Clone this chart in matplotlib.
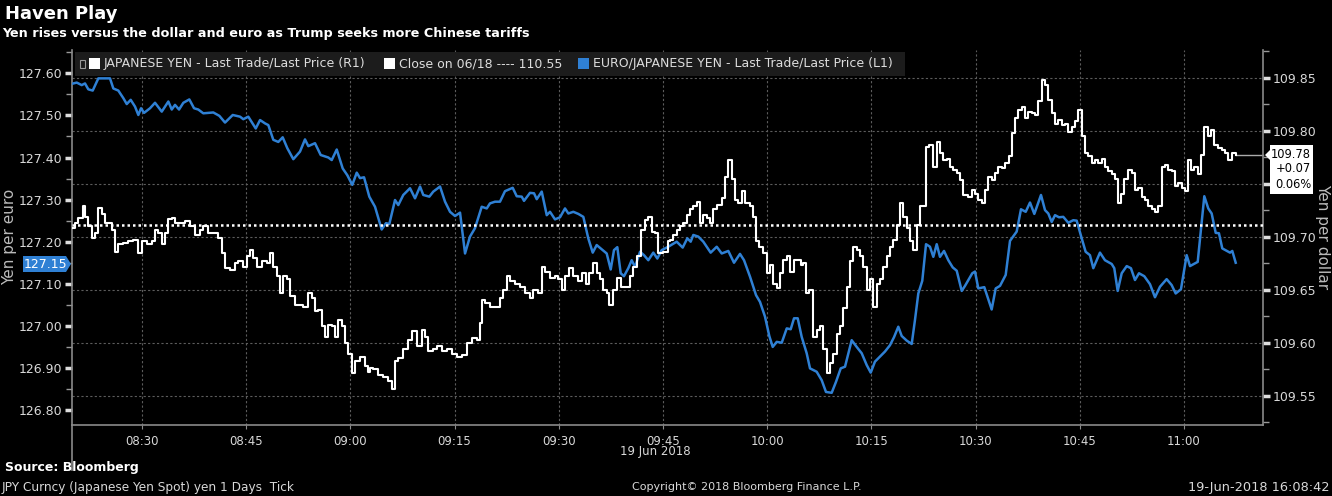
import matplotlib
matplotlib.use('Agg')
import matplotlib.pyplot as plt
import matplotlib.dates as mdates
import matplotlib.transforms as mtransforms
from matplotlib.patches import Rectangle, Polygon
from datetime import datetime
import numpy as np

# ---- data (minutes after 08:00 on 19 Jun 2018) ----
# EUR/JPY, left axis
blue_min = [19.88, 20.60, 21.32, 21.79, 22.27, 22.90, 23.71, 24.43, 25.39, 25.87,
            26.59, 27.31, 27.80, 28.37, 28.99, 29.47, 29.86, 30.29, 31.15, 31.87,
            32.84, 33.79, 34.28, 34.75, 35.33, 35.95, 36.81, 37.49, 38.10, 38.82,
            40.26, 41.13, 41.95, 42.57, 43.06, 44.11, 44.58, 45.30, 46.37, 46.99,
            47.71, 48.18, 48.90, 49.62, 50.25, 50.92, 51.78, 52.74, 53.46, 53.94,
            54.90, 55.72, 56.82, 57.31, 58.03, 58.89, 59.55, 60.27, 60.91, 61.38,
            61.96, 62.72, 63.54, 64.50, 65.12, 65.60, 66.42, 66.89, 67.61, 68.58,
            69.30, 70.02, 70.49, 71.36, 71.93, 72.90, 73.62, 74.34, 75.06, 75.78,
            76.50, 77.21, 77.93, 78.90, 79.62, 80.09, 80.81, 81.53, 82.25, 83.36,
            83.94, 84.66, 84.99, 85.85, 86.43, 86.82, 87.54, 88.26, 88.73, 89.45,
            90.17, 90.89, 91.37, 92.09, 92.81, 93.53, 94.24, 94.88, 95.45, 96.32,
            96.89, 97.47, 97.94, 98.42, 98.91, 99.38, 100.00, 100.49, 100.97, 101.69,
            102.26, 102.88, 103.60, 104.18, 104.81, 105.76, 106.97, 107.83, 108.50, 108.98,
            109.36, 110.08, 110.80, 111.86, 112.73, 113.45, 114.40, 115.22, 116.08, 116.66,
            117.52, 118.39, 118.96, 119.68, 120.30, 120.79, 121.37, 122.09, 122.81, 123.38,
            123.86, 124.39, 124.96, 125.68, 126.16, 127.12, 127.84, 128.46, 129.28, 129.90,
            130.58, 131.20, 132.16, 132.88, 133.60, 134.32, 134.90, 135.51, 136.23, 136.95,
            137.67, 138.25, 138.87, 139.36, 140.08, 140.80, 141.27, 141.75, 142.32, 142.86,
            143.43, 143.91, 144.40, 144.87, 145.45, 146.07, 146.70, 147.28, 148.00, 148.47,
            149.52, 149.91, 150.39, 151.25, 152.31, 152.89, 153.51, 154.33, 154.95, 155.91,
            156.53, 157.21, 157.83, 158.45, 159.41, 159.99, 160.46, 160.95, 161.43, 162.00,
            162.62, 163.34, 164.06, 164.55, 165.27, 165.84, 166.46, 166.94, 167.90, 168.62,
            169.59, 169.96, 170.45, 171.03, 171.75, 172.36, 172.94, 173.52, 174.28, 175.10,
            175.82, 176.54, 177.50, 178.22, 178.80, 179.56, 180.38, 180.86, 181.97, 182.92,
            183.49, 183.98, 184.56, 185.03, 185.51, 186.62, 186.95, 187.44]
blue_val = [127.575, 127.578, 127.572, 127.576, 127.562, 127.559, 127.588, 127.588, 127.588, 127.564,
            127.559, 127.541, 127.527, 127.537, 127.521, 127.501, 127.517, 127.506, 127.517, 127.530,
            127.509, 127.533, 127.514, 127.525, 127.514, 127.530, 127.538, 127.517, 127.514, 127.505,
            127.507, 127.499, 127.483, 127.493, 127.501, 127.497, 127.491, 127.497, 127.469, 127.489,
            127.481, 127.477, 127.442, 127.437, 127.448, 127.422, 127.396, 127.414, 127.443, 127.427,
            127.434, 127.406, 127.400, 127.394, 127.419, 127.374, 127.358, 127.335, 127.364, 127.351,
            127.353, 127.307, 127.283, 127.229, 127.244, 127.242, 127.299, 127.287, 127.311, 127.327,
            127.303, 127.331, 127.311, 127.307, 127.319, 127.331, 127.295, 127.271, 127.261, 127.269,
            127.172, 127.212, 127.232, 127.283, 127.279, 127.291, 127.295, 127.295, 127.320, 127.328,
            127.308, 127.307, 127.297, 127.316, 127.315, 127.301, 127.319, 127.263, 127.271, 127.253,
            127.258, 127.279, 127.267, 127.271, 127.266, 127.259, 127.208, 127.174, 127.192, 127.180,
            127.172, 127.134, 127.180, 127.187, 127.125, 127.118, 127.137, 127.156, 127.140, 127.176,
            127.168, 127.156, 127.174, 127.160, 127.180, 127.188, 127.200, 127.186, 127.208, 127.200,
            127.216, 127.212, 127.200, 127.174, 127.188, 127.172, 127.178, 127.150, 127.171, 127.156,
            127.117, 127.073, 127.057, 127.022, 126.976, 126.950, 126.962, 126.960, 126.994, 126.992,
            127.018, 127.018, 126.974, 126.935, 126.899, 126.891, 126.871, 126.843, 126.841, 126.867,
            126.899, 126.903, 126.966, 126.950, 126.935, 126.907, 126.889, 126.915, 126.927, 126.939,
            126.954, 126.973, 126.998, 126.976, 126.965, 126.957, 127.014, 127.077, 127.107, 127.194,
            127.188, 127.164, 127.194, 127.164, 127.178, 127.156, 127.139, 127.131, 127.083, 127.095,
            127.125, 127.129, 127.089, 127.092, 127.039, 127.089, 127.095, 127.121, 127.202, 127.224,
            127.277, 127.271, 127.293, 127.266, 127.311, 127.275, 127.267, 127.247, 127.263, 127.258,
            127.259, 127.245, 127.251, 127.250, 127.208, 127.176, 127.168, 127.137, 127.174, 127.156,
            127.147, 127.137, 127.083, 127.125, 127.142, 127.137, 127.109, 127.125, 127.118, 127.099,
            127.068, 127.093, 127.111, 127.097, 127.077, 127.087, 127.168, 127.142, 127.152, 127.308,
            127.279, 127.267, 127.221, 127.220, 127.184, 127.174, 127.178, 127.150]

# USD/JPY tick series, right axis
usd_min = [19.88, 20.36, 20.84, 21.46, 21.80, 22.28, 22.75, 23.23, 23.71, 24.19,
           24.67, 25.15, 25.63, 26.11, 26.59, 27.31, 28.03, 28.75, 29.47, 29.95,
           30.67, 31.39, 31.87, 32.35, 32.83, 33.31, 33.79, 34.27, 34.75, 35.47,
           36.19, 36.91, 37.63, 38.35, 38.83, 39.55, 40.27, 40.99, 41.47, 41.95,
           42.67, 43.39, 43.87, 44.59, 45.07, 45.55, 46.03, 46.51, 47.23, 47.95,
           48.43, 48.90, 49.38, 49.86, 50.34, 50.82, 51.30, 52.02, 52.74, 53.22,
           53.94, 54.42, 54.90, 55.38, 55.86, 56.34, 56.82, 57.30, 57.78, 58.26,
           58.74, 59.22, 59.70, 60.18, 60.66, 61.38, 62.10, 62.58,
           62.82, 63.30, 64.02, 64.74, 65.46, 65.94, 66.42, 66.90, 67.62, 68.34,
           68.82, 69.54, 70.26, 70.74, 71.22, 71.94, 72.42, 73.14, 73.86, 74.58,
           75.29, 76.01, 76.73, 77.45, 78.17, 78.65, 78.89, 79.37, 80.09, 80.81,
           81.53, 82.01, 82.49, 82.97, 83.69, 84.41, 85.13, 85.85, 86.33, 87.05,
           87.53, 88.01, 88.73, 89.45, 89.93, 90.41, 90.89, 91.51, 92.09, 92.81,
           93.29, 93.91, 94.39, 94.87, 95.45, 95.93, 96.41, 96.89, 97.27, 97.75,
           98.33, 98.90, 99.53, 100.24, 100.72, 101.20, 101.78, 102.40, 102.88, 103.36,
           103.84, 104.32, 105.04, 105.76,
           106.01, 106.49, 106.97, 107.45, 107.93, 108.41, 108.89, 109.37, 109.85, 110.33,
           110.81, 111.29, 111.77, 112.25, 112.73, 113.45, 113.93, 114.41, 114.89, 115.37,
           115.85, 116.33, 116.81, 117.53, 118.01, 118.39, 118.87, 119.44, 119.92, 120.40,
           120.88, 121.36, 121.84, 122.32, 122.80, 123.28, 123.86, 124.34, 124.82, 125.20,
           125.59, 126.07, 126.55, 127.12, 127.60, 128.08, 128.56, 129.04, 129.52, 130.00,
           130.48, 130.96, 131.44, 131.92, 132.40, 132.88, 133.36, 133.84, 134.32, 134.80,
           135.28, 135.76, 136.24, 136.72, 137.20, 137.68, 138.16, 138.64, 139.12, 139.60,
           140.17, 140.56, 141.04, 141.52, 142.00, 142.48, 142.86, 143.34, 143.91, 144.39,
           144.87, 145.35, 145.83, 146.31, 146.79, 147.27, 147.75, 148.23, 148.95,
           149.43, 149.91, 150.39, 150.87, 151.35, 151.83, 152.31, 152.79, 153.27, 153.75,
           154.23, 154.80, 155.19, 155.67, 156.15, 156.63, 157.11, 157.59, 158.07, 158.55,
           159.03, 159.51, 159.99, 160.47, 160.95, 161.43, 161.91, 162.39, 162.86, 163.34,
           163.82, 164.30, 164.78, 165.26, 165.74, 166.22, 166.70, 167.18, 167.66, 168.14,
           168.62, 169.10, 169.58, 170.06, 170.45, 170.93, 171.40, 171.98, 172.46, 172.94,
           173.42, 173.90, 174.38, 174.86, 175.34, 175.82, 176.30, 176.78, 177.26, 177.74,
           178.22, 178.70, 179.18, 179.66, 180.14, 180.52, 181.00, 181.48, 181.96, 182.44,
           182.92, 183.40, 183.88, 184.36, 184.94, 185.42, 185.89, 186.37, 186.85, 187.43]
usd_val = [109.708, 109.713, 109.718, 109.729, 109.719, 109.710, 109.699, 109.704, 109.727, 109.722,
           109.713, 109.713, 109.707, 109.686, 109.693, 109.694, 109.696, 109.697, 109.685, 109.696,
           109.693, 109.696, 109.707, 109.704, 109.693, 109.704, 109.717, 109.718, 109.713, 109.713,
           109.715, 109.710, 109.702, 109.707, 109.710, 109.704, 109.704, 109.699, 109.685, 109.671,
           109.669, 109.675, 109.677, 109.672, 109.682, 109.688, 109.680, 109.672, 109.677, 109.675,
           109.685, 109.672, 109.663, 109.647, 109.663, 109.660, 109.644, 109.636, 109.636, 109.634,
           109.647, 109.642, 109.630, 109.631, 109.616, 109.606, 109.617, 109.616, 109.606, 109.622,
           109.616, 109.600, 109.590, 109.572, 109.583, 109.587, 109.578, 109.573,
           109.576, 109.575, 109.570, 109.568, 109.564, 109.557, 109.583, 109.586, 109.594, 109.603,
           109.611, 109.597, 109.612, 109.606, 109.592, 109.594, 109.597, 109.592, 109.594, 109.590,
           109.587, 109.589, 109.600, 109.605, 109.603, 109.619, 109.641, 109.638, 109.634, 109.634,
           109.642, 109.650, 109.663, 109.658, 109.656, 109.653, 109.647, 109.642, 109.650, 109.647,
           109.672, 109.667, 109.661, 109.663, 109.660, 109.650, 109.663, 109.671, 109.663, 109.658,
           109.666, 109.656, 109.666, 109.675, 109.666, 109.660, 109.650, 109.647, 109.636, 109.650,
           109.661, 109.653, 109.653, 109.663, 109.672, 109.682, 109.707, 109.716, 109.719, 109.705,
           109.704, 109.685, 109.686, 109.696,
           109.697, 109.702, 109.707, 109.710, 109.713, 109.721, 109.726, 109.729, 109.733, 109.713,
           109.721, 109.718, 109.713, 109.726, 109.730, 109.737, 109.757, 109.773, 109.755, 109.735,
           109.732, 109.743, 109.732, 109.729, 109.719, 109.696, 109.691, 109.685, 109.666, 109.674,
           109.656, 109.652, 109.666, 109.678, 109.682, 109.667, 109.678, 109.678, 109.674, 109.675,
           109.647, 109.650, 109.606, 109.612, 109.616, 109.594, 109.572, 109.581, 109.590, 109.608,
           109.616, 109.633, 109.653, 109.677, 109.691, 109.688, 109.682, 109.672, 109.650, 109.660,
           109.634, 109.656, 109.660, 109.672, 109.682, 109.691, 109.697, 109.711, 109.732, 109.719,
           109.708, 109.696, 109.688, 109.711, 109.729, 109.729, 109.785, 109.787, 109.766, 109.790,
           109.779, 109.773, 109.774, 109.766, 109.763, 109.760, 109.754, 109.740, 109.738,
           109.744, 109.741, 109.735, 109.732, 109.744, 109.757, 109.754, 109.760, 109.766, 109.765,
           109.770, 109.776, 109.798, 109.812, 109.820, 109.823, 109.812, 109.818, 109.817, 109.815,
           109.828, 109.848, 109.843, 109.829, 109.817, 109.807, 109.810, 109.806, 109.807, 109.799,
           109.804, 109.809, 109.820, 109.795, 109.779, 109.776, 109.770, 109.773, 109.770, 109.774,
           109.766, 109.762, 109.759, 109.755, 109.732, 109.741, 109.755, 109.763, 109.760, 109.744,
           109.746, 109.738, 109.735, 109.729, 109.726, 109.724, 109.729, 109.766, 109.768, 109.763,
           109.762, 109.748, 109.751, 109.746, 109.743, 109.773, 109.763, 109.766, 109.759, 109.777,
           109.804, 109.795, 109.801, 109.787, 109.784, 109.782, 109.779, 109.773, 109.779, 109.777]

assert len(blue_min) == len(blue_val), (len(blue_min), len(blue_val))
assert len(usd_min) == len(usd_val), (len(usd_min), len(usd_val))

close_level = 109.711          # dotted "close" reference line (right axis)
left_ticks = [126.80, 126.90, 127.00, 127.10, 127.20, 127.30, 127.40, 127.50, 127.60]
right_ticks = [109.55, 109.60, 109.65, 109.70, 109.75, 109.80, 109.85]
right_labels = ['109.55', '109.60', '109.65', '109.70', '', '109.80', '109.85']  # 109.75 sits under the last-price box
x_tick_min = [30, 45, 60, 75, 90, 105, 120, 135, 150, 165, 180]

BLUE = '#2f80d4'
GRID = '#5c5c5c'
AXC = '#8a8a8a'
TXT = '#d8d8d8'
W, H = 1332, 496


def fx(px):
    return px / W


def fy(py):
    return 1 - py / H


fig = plt.figure(figsize=(W / 100, H / 100), dpi=100, facecolor='black')
ax = fig.add_axes([fx(72), fy(425), fx(1263) - fx(72), fy(50) - fy(425)])
ax.set_facecolor('black')
ax2 = ax.twinx()

base = mdates.date2num(datetime(2018, 6, 19, 8, 0))
bx = base + np.array(blue_min) / 1440.0
ux = base + np.array(usd_min) / 1440.0

ax.plot(bx, blue_val, color=BLUE, lw=1.8, zorder=3, solid_joinstyle='round')
ax2.plot(ux, usd_val, color='white', lw=1.5, drawstyle='steps-post', zorder=3)
ax2.axhline(close_level, color='white', lw=1.8, ls=(0, (1, 1.2)), zorder=4)

# last-price connector on the right axis
ax2.plot([ux[-1], base + 191.37 / 1440], [usd_val[-1], usd_val[-1]],
         color='#aaaaaa', lw=1.0, zorder=2, clip_on=False)

ax.set_xlim(base + 19.92 / 1440, base + 191.37 / 1440)
ax.set_ylim(126.7645, 127.6554)
ax2.set_ylim(109.5226, 109.8764)

# grids: vertical on times, horizontal on right-axis levels (drawn below lines)
ax.set_axisbelow(True)
xt = base + np.array(x_tick_min) / 1440.0
ax.set_xticks(xt)
ax.xaxis.set_major_formatter(mdates.DateFormatter('%H:%M'))
ax.grid(axis='x', color=GRID, ls=(0, (2, 2)), lw=0.8)
trans = mtransforms.blended_transform_factory(ax.transAxes, ax2.transData)
for lvl in right_ticks:
    ax.plot([0, 1], [lvl, lvl], transform=trans, color=GRID, ls=(0, (2, 2)),
            lw=0.8, zorder=1)

ax.set_yticks(left_ticks)
ax.set_yticks(np.arange(126.85, 127.66, 0.10), minor=True)
ax.yaxis.set_major_formatter(matplotlib.ticker.FormatStrFormatter('%.2f'))
ax2.set_yticks(right_ticks)
ax2.set_yticklabels(right_labels)
ax2.set_yticks(np.arange(109.525, 109.876, 0.05), minor=True)

for a in (ax, ax2):
    for s in a.spines.values():
        s.set_visible(False)
ax.spines['left'].set_visible(True)
ax.spines['bottom'].set_visible(True)
ax2.spines['right'].set_visible(True)
for s in (ax.spines['left'], ax.spines['bottom'], ax2.spines['right']):
    s.set_color(AXC)
    s.set_linewidth(1.2)

ax.tick_params(axis='y', which='major', colors=TXT, labelsize=9, length=5,
               width=2.5, color='#dddddd', pad=2)
ax.tick_params(axis='y', which='minor', length=4, width=1, color='#999999')
ax2.tick_params(axis='y', which='major', colors=TXT, labelsize=9, length=5,
                width=2.5, color='#dddddd', pad=2)
ax2.tick_params(axis='y', which='minor', length=4, width=1, color='#999999')
ax.tick_params(axis='x', colors=TXT, labelsize=8.5, length=3, color=AXC, pad=4)

# axis titles
fig.text(fx(10), fy(237), 'Yen per euro', rotation=90, ha='center', va='center',
         color='#bbbbbb', fontsize=11)
fig.text(fx(1323), fy(237), 'Yen per dollar', rotation=270, ha='center', va='center',
         color='#bbbbbb', fontsize=11)

# left separator below x axis
fig.add_artist(plt.Line2D([fx(72), fx(72)], [fy(425), fy(470)], color=AXC, lw=1.2))
fig.text(fx(655), fy(452), '19 Jun 2018', ha='center', va='center', color=TXT, fontsize=8.5)

# legend band
fig.add_artist(Rectangle((fx(75), fy(76)), fx(905) - fx(75), fy(52) - fy(76),
                         transform=fig.transFigure, facecolor='#1c1c1c',
                         edgecolor='none', zorder=5))
fig.add_artist(Rectangle((fx(80), fy(68)), fx(5), fy(60) - fy(68),
                         transform=fig.transFigure, facecolor='none',
                         edgecolor='#999999', lw=0.8, zorder=6))
for x0, col in ((89, 'white'), (384, 'white'), (578, BLUE)):
    fig.add_artist(Rectangle((fx(x0), fy(69)), fx(11), fy(58) - fy(69),
                             transform=fig.transFigure, facecolor=col,
                             edgecolor='none', zorder=6))
leg_items = [(104, 'JAPANESE YEN - Last Trade/Last Price (R1)'),
             (399, 'Close on 06/18 ---- 110.55'),
             (593, 'EURO/JAPANESE YEN - Last Trade/Last Price (L1)')]
for x0, s in leg_items:
    fig.text(fx(x0), fy(64), s, ha='left', va='center', color='#dddddd',
             fontsize=9, zorder=7)

# last-value boxes
fig.add_artist(Polygon([(fx(23), fy(256)), (fx(66), fy(256)), (fx(71), fy(264)),
                        (fx(66), fy(272)), (fx(23), fy(272))], closed=True,
                       transform=fig.transFigure, facecolor=BLUE, edgecolor='none', zorder=6))
fig.text(fx(45), fy(264), '127.15', ha='center', va='center', color='white',
         fontsize=9, zorder=7)
fig.add_artist(Polygon([(fx(1270), fy(145)), (fx(1313), fy(145)), (fx(1313), fy(194)),
                        (fx(1270), fy(194)), (fx(1270), fy(160)), (fx(1265), fy(155)),
                        (fx(1270), fy(150))], closed=True,
                       transform=fig.transFigure, facecolor='white', edgecolor='none', zorder=6))
for yy, s in ((154, '109.78'), (169, '+0.07'), (184, '0.06%')):
    fig.text(fx(1311), fy(yy), s, ha='right', va='center', color='black',
             fontsize=8.3, zorder=7)

# titles and footer
fig.text(fx(5), fy(14), 'Haven Play', ha='left', va='center', color='white',
         fontsize=13, fontweight='bold')
fig.text(fx(2), fy(34), 'Yen rises versus the dollar and euro as Trump seeks more Chinese tariffs',
         ha='left', va='center', color='white', fontsize=9.2, fontweight='bold')
fig.text(fx(5), fy(468), 'Source: Bloomberg', ha='left', va='center', color='white',
         fontsize=9, fontweight='bold')
fig.text(fx(2), fy(487), 'JPY Curncy (Japanese Yen Spot) yen 1 Days  Tick', ha='left',
         va='center', color=TXT, fontsize=8.7)
fig.text(fx(632), fy(487), 'Copyright\u00a9 2018 Bloomberg Finance L.P.', ha='left',
         va='center', color=TXT, fontsize=8)
fig.text(fx(1329), fy(487), '19-Jun-2018 16:08:42', ha='right', va='center',
         color=TXT, fontsize=9.3)

fig.savefig('out.png', dpi=100, facecolor='black')
